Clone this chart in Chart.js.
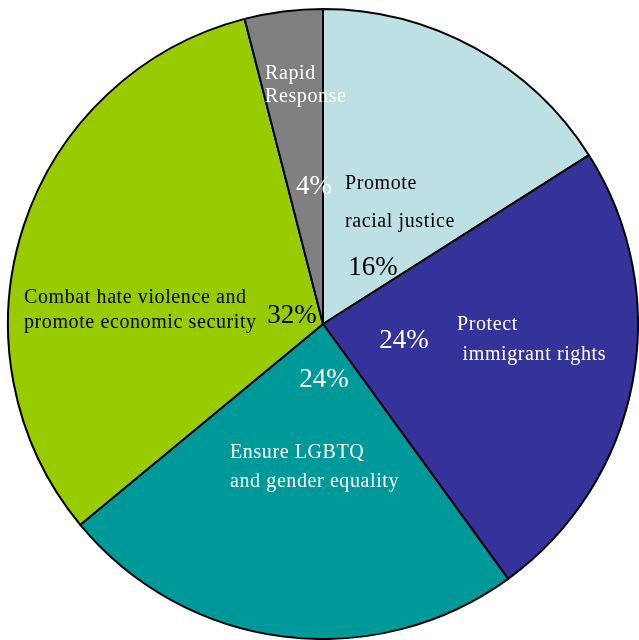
<!DOCTYPE html>
<html>
<head>
<meta charset="utf-8">
<script src="https://cdn.jsdelivr.net/npm/chart.js@4.4.1/dist/chart.umd.min.js"></script>
<style>
  html, body { margin: 0; padding: 0; background: #fff; }
  #wrap { width: 639px; height: 640px; }
</style>
</head>
<body>
<div id="wrap"><canvas id="pie"></canvas></div>
<script>
// Data
const categories = ["Promote racial justice", "Protect immigrant rights", "Ensure LGBTQ and gender equality", "Combat hate violence and promote economic security", "Rapid Response"];
const shares = [16, 24, 24, 32, 4];
const sliceColors = ["#bce0e3", "#353399", "#009999", "#99cc00", "#808080"];

// Label layout: text lines and percent, offsets from the pie centre (px)
const labelLayout = [
    { lines: ["Promote", "racial justice"], lineX: [22, 22], lineY: [-140, -102], color: "#000", pct: [50, -56] },
    { lines: ["Protect", " immigrant rights"], lineX: [134, 134], lineY: [1, 31], color: "#fff", pct: [81, 17] },
    { lines: ["Ensure LGBTQ", "and gender equality"], lineX: [-93, -93], lineY: [129, 158], color: "#fff", pct: [1, 56] },
    { lines: ["Combat hate violence and", "promote economic security"], lineX: [-299, -299], lineY: [-26, -1], color: "#000", pct: [-31, -8] },
    { lines: ["Rapid", "Response"], lineX: [-58, -58], lineY: [-250, -227], color: "#fff", pct: [-9, -137] }
];

const sliceLabels = {
    id: "sliceLabels",
    afterDatasetsDraw(chart) {
        const ctx = chart.ctx;
        const arcs = chart.getDatasetMeta(0).data;
        const cx = arcs[0].x, cy = arcs[0].y;
        ctx.save();
        ctx.textBaseline = "middle";
        labelLayout.forEach((lab, i) => {
            ctx.fillStyle = lab.color;
            ctx.textAlign = "left";
            ctx.font = "20px 'Liberation Serif'";
            ctx.letterSpacing = "0.6px";
            lab.lines.forEach((t, j) => {
                ctx.fillText(t, cx + lab.lineX[j], cy + lab.lineY[j]);
            });
            ctx.font = "27px 'Liberation Serif'";
            ctx.letterSpacing = "0px";
            ctx.textAlign = "center";
            ctx.fillText(shares[i] + "%", cx + lab.pct[0], cy + lab.pct[1]);
        });
        ctx.restore();
    }
};

new Chart(document.getElementById("pie"), {
    type: "pie",
    data: {
        labels: categories,
        datasets: [{
            data: shares,
            backgroundColor: sliceColors,
            borderColor: "#000",
            borderWidth: 2
        }]
    },
    options: {
        responsive: true,
        maintainAspectRatio: false,
        animation: false,
        layout: { padding: { left: 7, top: 8, right: 0, bottom: 0 } },
        plugins: {
            legend: { display: false },
            tooltip: { enabled: false }
        }
    },
    plugins: [sliceLabels]
});
</script>
</body>
</html>
